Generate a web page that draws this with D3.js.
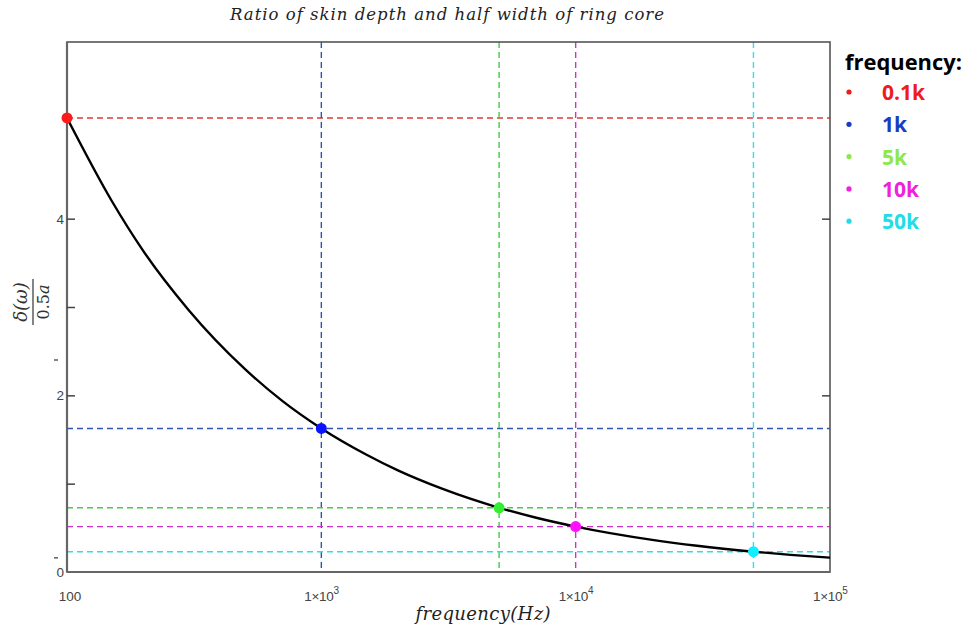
<!DOCTYPE html>
<html><head><meta charset="utf-8">
<script src="https://cdn.jsdelivr.net/npm/d3@7"></script>
<style>body{margin:0;background:#fff}svg{display:block}</style>
</head><body>
<svg id="c" width="966" height="627"></svg>
<script>
// Curve samples
const curveFreq = [100,150,200,300,500,700,1000,1500,2000,3000,5000,7000,10000,20000,30000,50000,70000,100000];
const curveRatio = [5.14,4.20,3.63,2.97,2.30,1.94,1.625,1.33,1.15,0.94,0.727,0.614,0.514,0.364,0.297,0.23,0.194,0.163];
// Marked frequencies
const markLabels = ["0.1k","1k","5k","10k","50k"];
const markFreq = [100,1000,5000,10000,50000];
const markRatio = [5.14,1.625,0.727,0.514,0.23];
const markColors = ["#ff1a1a","#0a14ff","#33ee33","#ff10ff","#10eeff"];
const lineColors = ["#e03a3a","#2f55b0","#44cc44","#cc33cc","#33dcec"];
const legendColors = ["#ee1c1c","#1a3cc0","#8ee84a","#ee22dd","#22dde6"];
const xTicks = [100,1000,10000,100000];
const yTicks = [0,2,4];
const yMinorTicks = [1,3];

const svg = d3.select("#c");
const L=67,R=830,T=42,B=572;
const x = d3.scaleLog().domain([100,100000]).range([L,R]);
const y = d3.scaleLinear().domain([0,6]).range([B,T]);

// title
svg.append("text").attr("x",447).attr("y",20).attr("text-anchor","middle")
 .attr("font-family","DejaVu Serif").attr("font-style","italic").attr("font-size",16.5)
 .attr("textLength",434).attr("lengthAdjust","spacing")
 .attr("fill","#222").text("Ratio of skin depth and half width of ring core");

// dashed guide lines
markFreq.forEach((f,i)=>{
  svg.append("line").attr("x1",L).attr("x2",R).attr("y1",y(markRatio[i])).attr("y2",y(markRatio[i]))
    .attr("stroke",lineColors[i]).attr("stroke-width",1.4).attr("stroke-dasharray","6,4");
  if(i>0) svg.append("line").attr("x1",x(f)).attr("x2",x(f)).attr("y1",T).attr("y2",B)
    .attr("stroke",lineColors[i]).attr("stroke-width",1.4).attr("stroke-dasharray","6,4");
});

// frame
svg.append("rect").attr("x",L).attr("y",T).attr("width",R-L).attr("height",B-T)
 .attr("fill","none").attr("stroke","#555").attr("stroke-width",1.6);
svg.append("line").attr("x1",L).attr("x2",L).attr("y1",T).attr("y2",B).attr("stroke","#666").attr("stroke-width",2.2);
svg.append("line").attr("x1",L).attr("x2",R).attr("y1",B).attr("y2",B).attr("stroke","#666").attr("stroke-width",2.2);

// y ticks (inward)
const yAxis = d3.axisRight(y).tickValues(yTicks.concat(yMinorTicks).filter(v=>v>0)).tickSize(8).tickFormat("");
const ya = svg.append("g").attr("transform",`translate(${L},0)`).call(yAxis);
ya.select(".domain").remove();
ya.selectAll("line").attr("stroke","#444").attr("stroke-width",1.5);
const yAxisR = d3.axisLeft(y).tickValues(yTicks.filter(v=>v>0)).tickSize(8).tickFormat("");
const yr = svg.append("g").attr("transform",`translate(${R},0)`).call(yAxisR);
yr.select(".domain").remove();
yr.selectAll("line").attr("stroke","#444").attr("stroke-width",1.5);

// y tick labels
svg.selectAll(".ylab").data(yTicks).enter().append("text")
 .attr("x",L-3).attr("y",d=>y(d)+5).attr("text-anchor","end")
 .attr("font-family","Liberation Sans").attr("font-size",13.5).attr("fill","#444").text(d=>d);
// small marks at left
[2.4,0.16].forEach(v=>svg.append("line").attr("x1",54).attr("x2",58).attr("y1",y(v)).attr("y2",y(v)).attr("stroke","#444").attr("stroke-width",1.3));

// x tick labels
xTicks.forEach(t=>{
  const e=Math.round(Math.log10(t));
  const tx=svg.append("text").attr("y",601).attr("font-family","Liberation Sans").attr("font-size",13.5).attr("fill","#444");
  if(e===2){ tx.attr("x",x(t)+3).attr("text-anchor","middle").attr("font-size",13.5).text("100"); }
  else{
    tx.attr("x",x(t)-17).attr("letter-spacing",-0.3);
    tx.append("tspan").text("1×10");
    tx.append("tspan").attr("dy",-7).attr("font-size",10).text(e);
  }
});

// x axis label
svg.append("text").attr("x",483).attr("y",620).attr("text-anchor","middle")
 .attr("font-family","DejaVu Serif").attr("font-style","italic").attr("font-size",18)
 .attr("textLength",135).attr("lengthAdjust","spacing")
 .attr("fill","#222").text("frequency(Hz)");

// y axis label (fraction, rotated)
const yl = svg.append("g").attr("transform","translate(33,302) rotate(-90)");
yl.append("text").attr("x",0).attr("y",-6).attr("text-anchor","middle")
 .attr("font-family","DejaVu Serif").attr("font-style","italic").attr("font-size",18).attr("fill","#333").text("δ(ω)");
yl.append("line").attr("x1",-23).attr("x2",23).attr("y1",0).attr("y2",0).attr("stroke","#333").attr("stroke-width",1.2);
yl.append("text").attr("x",0).attr("y",16).attr("text-anchor","middle")
 .attr("font-family","DejaVu Serif").attr("font-size",16).attr("fill","#333")
 .html('0.5<tspan font-style="italic">a</tspan>');

// curve
const line = d3.line().x(d=>x(d[0])).y(d=>y(d[1])).curve(d3.curveMonotoneX);
svg.append("path").datum(curveFreq.map((f,i)=>[f,curveRatio[i]]))
 .attr("d",line).attr("fill","none").attr("stroke","#000").attr("stroke-width",2.4);

// markers
svg.selectAll(".mk").data(markFreq).enter().append("circle")
 .attr("cx",d=>x(d)).attr("cy",(d,i)=>y(markRatio[i])).attr("r",5.5)
 .attr("fill",(d,i)=>markColors[i]);

// legend
svg.append("text").attr("x",845).attr("y",70).attr("font-family","Open Sans").attr("font-weight","bold")
 .attr("font-size",21).attr("textLength",117).attr("lengthAdjust","spacingAndGlyphs").attr("fill","#000").text("frequency:");
markLabels.forEach((lab,i)=>{
  const yy=92+i*32.3;
  svg.append("circle").attr("cx",849).attr("cy",yy).attr("r",2.6).attr("fill",legendColors[i]);
  svg.append("text").attr("x",882).attr("y",yy+8).attr("font-family","Open Sans").attr("font-weight","bold")
   .attr("font-size",21).attr("fill",legendColors[i]).text(lab);
});
</script>
</body></html>
